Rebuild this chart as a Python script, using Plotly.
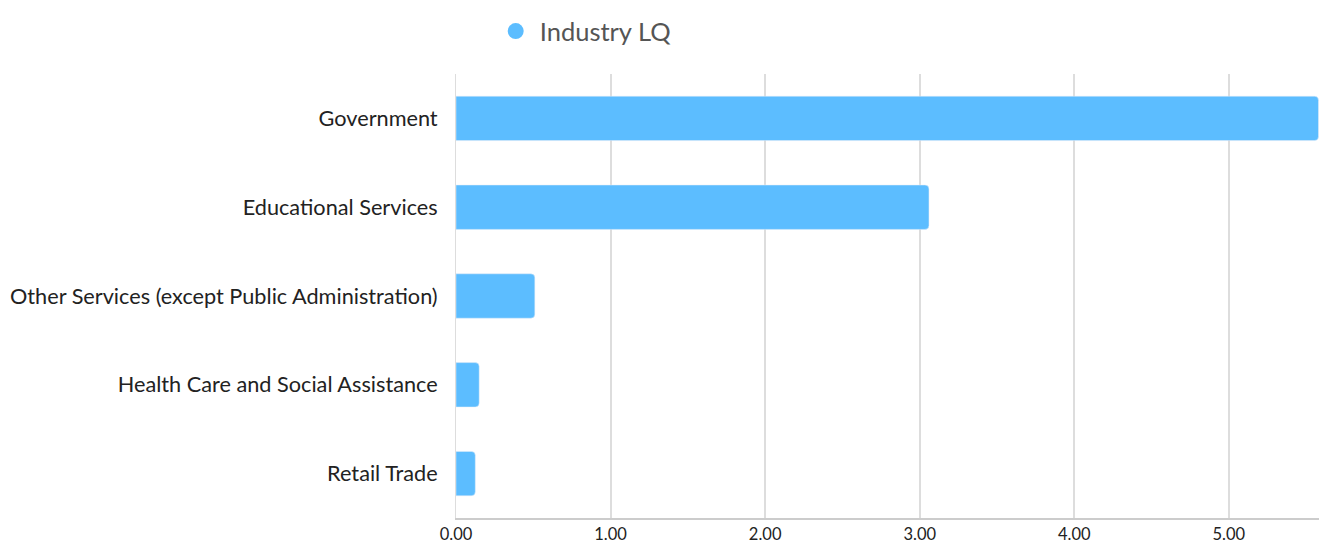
import plotly.graph_objects as go

categories = ["Government", "Educational Services", "Other Services (except Public Administration)",
              "Health Care and Social Assistance", "Retail Trade"]
values = [5.58, 3.06, 0.51, 0.15, 0.125]
series_name = "Industry LQ"
tick_vals = [0, 1, 2, 3, 4, 5]
tick_text = ["0.00", "1.00", "2.00", "3.00", "4.00", "5.00"]

color = "#5cbdff"

fig = go.Figure()
fig.add_trace(go.Bar(
    y=categories, x=values, orientation="h",
    marker=dict(color=color, cornerradius=4),
    showlegend=False, name=series_name,
))
fig.add_trace(go.Scatter(
    x=[None], y=[None], mode="markers", name=series_name,
    marker=dict(color=color, size=20, symbol="circle"),
    showlegend=True,
))

# The page body adds an 8px offset, so the figure is 8px smaller on each axis.
fig.update_layout(
    width=1319, height=538,
    paper_bgcolor="white", plot_bgcolor="white",
    font=dict(family="Lato", color="#222"),
    margin=dict(l=448, r=0, t=66, b=28),
    bargap=0.5,
    legend=dict(orientation="h", x=0.041, xanchor="left", y=1.0, yanchor="top",
                yref="container", font=dict(size=25.5, color="#555"),
                itemwidth=38),
    xaxis=dict(range=[0, 5.635], tickvals=tick_vals, ticktext=tick_text,
               showgrid=True, gridcolor="#dddddd", gridwidth=1.5,
               zeroline=False, showline=True, linecolor="#cccccc", linewidth=1.5,
               tickfont=dict(size=16.5, color="#222"), ticks="", fixedrange=True),
    yaxis=dict(categoryorder="array", categoryarray=categories[::-1],
               showgrid=False, zeroline=False, showline=True, linecolor="#dddddd",
               tickfont=dict(size=21.7, color="#222"), ticks="outside", ticklen=13,
               tickcolor="rgba(0,0,0,0)"),
)

fig.write_html("out.html")
